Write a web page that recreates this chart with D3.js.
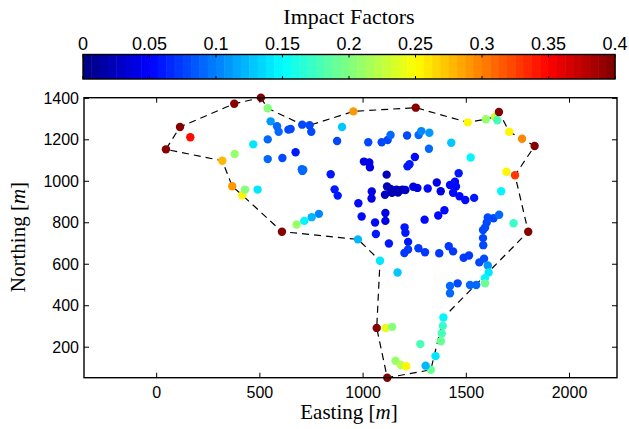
<!DOCTYPE html>
<html><head><meta charset="utf-8">
<script src="https://cdn.jsdelivr.net/npm/d3@7"></script>
<style>body{margin:0;background:#fff;}svg{display:block;}</style>
</head><body>
<svg id="c" width="629" height="429"></svg>
<script>
// ---- data ----
const easting = [45,113,376,505,538,705,741,953,1255,1507,1595,1639,1650,1658,1708,1770,1831,1736,1694,1800,
1389,1328,1117,1066,1082,975,607,415,366,318,163,552,583,591,638,649,749,468,538,378,
538,609,673,703,710,706,843,428,489,678,715,751,786,898,874,1025,1090,1119,1133,1213,
1269,1282,1321,1319,1427,1521,1004,1030,1033,1251,1225,1215,1114,1463,862,877,1042,1041,977,1106,
1116,1133,1147,1162,1176,1191,1205,1140,1169,1243,1263,1313,1357,1376,1421,1445,1450,1436,1467,1495,
1538,1669,993,1058,1108,1108,1062,1125,1201,1205,1218,1218,1200,1268,1300,1298,1364,1394,1369,1415,
1436,1487,1513,1563,1586,1604,1608,1590,1591,1518,1548,1458,1421,1421,1167,1604,1632,1659,1599,1591,
1581,1581,1582,1729,1386,1381,1377,1351,1303,1277,1157,1183,1209,1109,1141];
const northing = [1154,1262,1374,1403,1352,1273,1270,1337,1355,1284,1299,1311,1294,1334,1239,1205,1170,1029,1046,757,
343,91,53,293,617,720,757,933,976,1099,1212,1289,1265,1239,1249,1252,1239,1178,1202,1132,
1107,1112,1140,1058,1056,1050,1034,960,960,792,809,827,843,1262,1194,1188,1188,1199,1223,1221,
1223,1242,1234,1157,1186,1115,1095,1091,1067,1117,1082,1072,1032,1039,961,931,951,917,894,935,
975,963,956,960,956,960,958,944,946,974,968,965,994,952,982,998,975,945,928,910,
920,952,830,801,847,809,746,700,778,752,708,671,654,677,658,815,835,860,653,687,
662,631,642,609,627,594,560,533,508,500,500,508,495,460,560,826,822,839,801,777,
765,726,692,798,303,266,229,157,111,215,135,114,108,293,298];
const impact = [0.40,0.40,0.40,0.40,0.20,0.08,0.08,0.29,0.40,0.25,0.21,0.23,0.18,0.40,0.25,0.30,0.40,0.33,0.25,0.40,
0.15,0.19,0.40,0.40,0.14,0.12,0.40,0.25,0.29,0.28,0.35,0.11,0.09,0.09,0.08,0.08,0.08,0.14,0.09,0.21,
0.09,0.08,0.06,0.09,0.09,0.09,0.06,0.20,0.14,0.21,0.15,0.12,0.10,0.13,0.08,0.08,0.08,0.08,0.09,0.08,
0.09,0.10,0.11,0.09,0.13,0.15,0.04,0.04,0.04,0.05,0.06,0.06,0.02,0.06,0.06,0.06,0.04,0.04,0.05,0.03,
0.02,0.02,0.02,0.02,0.02,0.02,0.03,0.02,0.02,0.04,0.04,0.05,0.04,0.04,0.05,0.05,0.05,0.05,0.05,0.05,
0.06,0.15,0.05,0.05,0.04,0.04,0.06,0.06,0.06,0.06,0.06,0.07,0.07,0.07,0.07,0.05,0.05,0.05,0.07,0.07,
0.07,0.07,0.07,0.08,0.08,0.11,0.14,0.15,0.19,0.09,0.09,0.08,0.09,0.09,0.13,0.08,0.08,0.09,0.08,0.08,
0.08,0.08,0.08,0.17,0.17,0.18,0.19,0.14,0.12,0.18,0.21,0.22,0.25,0.24,0.20];
const boundaryEasting = [505,538,705,741,953,1255,1507,1595,1639,1658,1708,1770,1831,1736,1800,1389,1328,1117,1066,1082,975,607,415,366,318,45,113,376,505];
const boundaryNorthing = [1403,1352,1273,1270,1337,1355,1284,1299,1311,1334,1239,1205,1170,1029,757,343,91,53,293,617,720,757,933,976,1099,1154,1262,1374,1403];
const xTicks = [0,500,1000,1500,2000];
const yTicks = [200,400,600,800,1000,1200,1400];
const cbTicks = [0,0.05,0.1,0.15,0.2,0.25,0.3,0.35,0.4];
const cbLabels = ["0","0.05","0.1","0.15","0.2","0.25","0.3","0.35","0.4"];

// ---- colormap (MATLAB jet, 64 levels) ----
const NC = 64;
function jet(t){
  const c = v => Math.max(0, Math.min(1, v));
  const r = c(1.5 - Math.abs(4*t - 3)), g = c(1.5 - Math.abs(4*t - 2)), b = c(1.5 - Math.abs(4*t - 1));
  return d3.rgb(r*255, g*255, b*255).toString();
}
const jetColors = d3.range(NC).map(i => jet((i + 0.5) / NC));
const cmin = 0, cmax = 0.4;
const colorOf = v => jetColors[Math.max(0, Math.min(NC-1, Math.floor((v - cmin)/(cmax - cmin)*NC)))];

const svg = d3.select("#c");
const L = 84, R = 617, T = 97.7, B = 377.7;
const x = d3.scaleLinear().domain([-352, 2230]).range([L, R]);
const y = d3.scaleLinear().domain([53, 1403]).range([B, T]);
const tickFont = "'Liberation Sans', Arial, sans-serif";
const serif = "'Liberation Serif', 'Times New Roman', serif";

// boundary dashed line
const line = d3.line().x(d => x(d[0])).y(d => y(d[1]));
svg.append("path")
  .datum(boundaryEasting.map((e,i) => [e, boundaryNorthing[i]]))
  .attr("d", line).attr("fill","none").attr("stroke","#000")
  .attr("stroke-width",1.2).attr("stroke-dasharray","7,5");

// points
svg.append("g").selectAll("circle").data(easting.map((e,i)=>({e, n:northing[i], v:impact[i]})))
  .join("circle")
  .attr("cx", d => x(d.e)).attr("cy", d => y(d.n)).attr("r", 4.2)
  .attr("fill", d => colorOf(d.v));

// axes box
svg.append("rect").attr("x",L).attr("y",T).attr("width",R-L).attr("height",B-T)
  .attr("fill","none").attr("stroke","#000").attr("stroke-width",1.4);

const tl = 5;
const gx = svg.append("g");
xTicks.forEach(v => {
  gx.append("line").attr("x1",x(v)).attr("x2",x(v)).attr("y1",B).attr("y2",B-tl).attr("stroke","#000");
  gx.append("line").attr("x1",x(v)).attr("x2",x(v)).attr("y1",T).attr("y2",T+tl).attr("stroke","#000");
  gx.append("text").attr("x",x(v)).attr("y",B+20).attr("text-anchor","middle")
    .attr("font-family",tickFont).attr("font-size",16).text(v);
});
yTicks.forEach(v => {
  gx.append("line").attr("x1",L).attr("x2",L+tl).attr("y1",y(v)).attr("y2",y(v)).attr("stroke","#000");
  gx.append("line").attr("x1",R).attr("x2",R-tl).attr("y1",y(v)).attr("y2",y(v)).attr("stroke","#000");
  gx.append("text").attr("x",L-5).attr("y",y(v)+5.5).attr("text-anchor","end")
    .attr("font-family",tickFont).attr("font-size",16).text(v);
});

// axis labels
const xl = svg.append("text").attr("x",349).attr("y",419).attr("text-anchor","middle")
  .attr("font-family",serif).attr("font-size",21);
xl.append("tspan").text("Easting [");
xl.append("tspan").attr("font-style","italic").text("m");
xl.append("tspan").text("]");
const yl = svg.append("text").attr("transform","translate(25,237) rotate(-90)").attr("text-anchor","middle")
  .attr("font-family",serif).attr("font-size",21);
yl.append("tspan").text("Northing [");
yl.append("tspan").attr("font-style","italic").text("m");
yl.append("tspan").text("]");

// colorbar
const CL = 83, CR = 615, CT = 54.5, CB = 79;
const cx = d3.scaleLinear().domain([cmin, cmax]).range([CL, CR]);
const cw = (CR - CL) / NC;
svg.append("g").selectAll("rect").data(jetColors).join("rect")
  .attr("x",(d,i)=>CL + i*cw).attr("y",CT).attr("width",cw+0.5).attr("height",CB-CT)
  .attr("fill",d=>d);
svg.append("rect").attr("x",CL).attr("y",CT).attr("width",CR-CL).attr("height",CB-CT)
  .attr("fill","none").attr("stroke","#000").attr("stroke-width",1.4);
cbTicks.forEach((v,i) => {
  svg.append("line").attr("x1",cx(v)).attr("x2",cx(v)).attr("y1",CT).attr("y2",CT+3).attr("stroke","#000");
  svg.append("line").attr("x1",cx(v)).attr("x2",cx(v)).attr("y1",CB).attr("y2",CB-3).attr("stroke","#000");
  svg.append("text").attr("x",cx(v)).attr("y",CT-5).attr("text-anchor","middle")
    .attr("font-family",tickFont).attr("font-size",18).text(cbLabels[i]);
});
svg.append("text").attr("x",349).attr("y",24).attr("text-anchor","middle")
  .attr("font-family",serif).attr("font-size",22).text("Impact Factors");
</script>
</body></html>
